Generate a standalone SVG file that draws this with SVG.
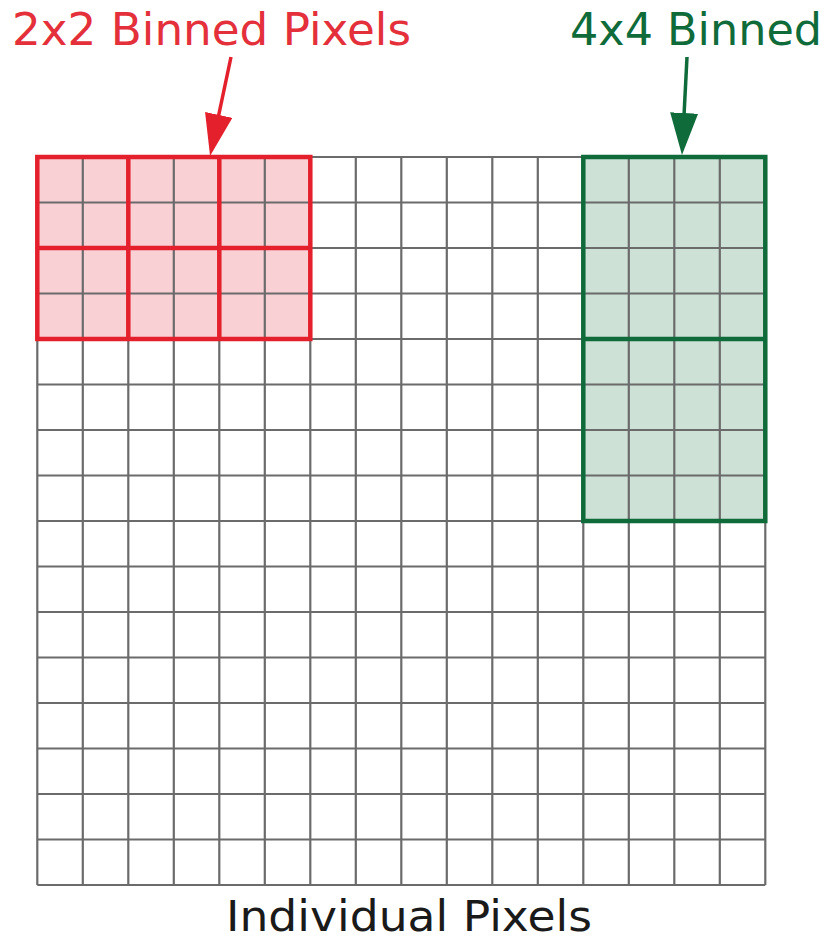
<svg xmlns="http://www.w3.org/2000/svg" width="830" height="942" viewBox="0 0 830 942">
<style>
.grid line{stroke:#6b6b6b;stroke-width:2.2}
.red{stroke:#e4202c;stroke-width:4.5;fill:none}
.green{stroke:#0f6b3a;stroke-width:4.5;fill:none}
.lbl{font-family:"DejaVu Sans",Verdana,sans-serif;font-size:44px}
</style>
<defs>
<marker id="hr" viewBox="0 0 42 28" refX="22" refY="14" markerWidth="42" markerHeight="28" markerUnits="userSpaceOnUse" orient="auto"><path d="M0,0 L42,14 L0,28 Z" fill="#e4202c"/></marker>
<marker id="hg" viewBox="0 0 42 28" refX="22" refY="14" markerWidth="42" markerHeight="28" markerUnits="userSpaceOnUse" orient="auto"><path d="M0,0 L42,14 L0,28 Z" fill="#0f6b3a"/></marker>
</defs>
<rect width="830" height="942" fill="#fff"/>
<g id="bin2x2-fill"><rect x="37.3" y="157" width="273" height="182" fill="#f9d0d4"/></g>
<g id="bin4x4-fill"><rect x="583.3" y="157" width="182" height="364" fill="#cde1d7"/></g>
<g id="pixel-grid" class="grid">
<line x1="37.3" y1="157" x2="37.3" y2="885"/><line x1="82.8" y1="157" x2="82.8" y2="885"/><line x1="128.3" y1="157" x2="128.3" y2="885"/><line x1="173.8" y1="157" x2="173.8" y2="885"/><line x1="219.3" y1="157" x2="219.3" y2="885"/><line x1="264.8" y1="157" x2="264.8" y2="885"/><line x1="310.3" y1="157" x2="310.3" y2="885"/><line x1="355.8" y1="157" x2="355.8" y2="885"/><line x1="401.3" y1="157" x2="401.3" y2="885"/><line x1="446.8" y1="157" x2="446.8" y2="885"/><line x1="492.3" y1="157" x2="492.3" y2="885"/><line x1="537.8" y1="157" x2="537.8" y2="885"/><line x1="583.3" y1="157" x2="583.3" y2="885"/><line x1="628.8" y1="157" x2="628.8" y2="885"/><line x1="674.3" y1="157" x2="674.3" y2="885"/><line x1="719.8" y1="157" x2="719.8" y2="885"/><line x1="765.3" y1="157" x2="765.3" y2="885"/>
<line x1="37.3" y1="157" x2="765.3" y2="157"/><line x1="37.3" y1="202.5" x2="765.3" y2="202.5"/><line x1="37.3" y1="248" x2="765.3" y2="248"/><line x1="37.3" y1="293.5" x2="765.3" y2="293.5"/><line x1="37.3" y1="339" x2="765.3" y2="339"/><line x1="37.3" y1="384.5" x2="765.3" y2="384.5"/><line x1="37.3" y1="430" x2="765.3" y2="430"/><line x1="37.3" y1="475.5" x2="765.3" y2="475.5"/><line x1="37.3" y1="521" x2="765.3" y2="521"/><line x1="37.3" y1="566.5" x2="765.3" y2="566.5"/><line x1="37.3" y1="612" x2="765.3" y2="612"/><line x1="37.3" y1="657.5" x2="765.3" y2="657.5"/><line x1="37.3" y1="703" x2="765.3" y2="703"/><line x1="37.3" y1="748.5" x2="765.3" y2="748.5"/><line x1="37.3" y1="794" x2="765.3" y2="794"/><line x1="37.3" y1="839.5" x2="765.3" y2="839.5"/><line x1="37.3" y1="885" x2="765.3" y2="885"/>
</g>
<g id="bin2x2" class="red">
<rect x="37.3" y="157" width="273" height="182"/>
<line x1="128.3" y1="157" x2="128.3" y2="339"/><line x1="219.3" y1="157" x2="219.3" y2="339"/><line x1="37.3" y1="248" x2="310.3" y2="248"/>
</g>
<g id="bin4x4" class="green">
<rect x="583.3" y="157" width="182" height="364"/>
<line x1="583.3" y1="339" x2="765.3" y2="339"/>
</g>
<g id="label-2x2"><text class="lbl" x="12" y="45" fill="#e4303a" textLength="399" lengthAdjust="spacingAndGlyphs">2x2 Binned Pixels</text></g>
<g id="label-4x4"><text class="lbl" x="570" y="45" fill="#0f6b3a" textLength="252" lengthAdjust="spacingAndGlyphs">4x4 Binned</text></g>
<g id="label-individual"><text class="lbl" x="226" y="931" font-size="42" style="font-size:42px" fill="#1a1a1a" textLength="366" lengthAdjust="spacingAndGlyphs">Individual Pixels</text></g>
<g id="connectors">
<line x1="231" y1="57" x2="214.2" y2="136.4" stroke="#e4202c" stroke-width="3.5" marker-end="url(#hr)"/>
<line x1="687" y1="57" x2="683" y2="135" stroke="#0f6b3a" stroke-width="3.5" marker-end="url(#hg)"/>
</g>
</svg>
